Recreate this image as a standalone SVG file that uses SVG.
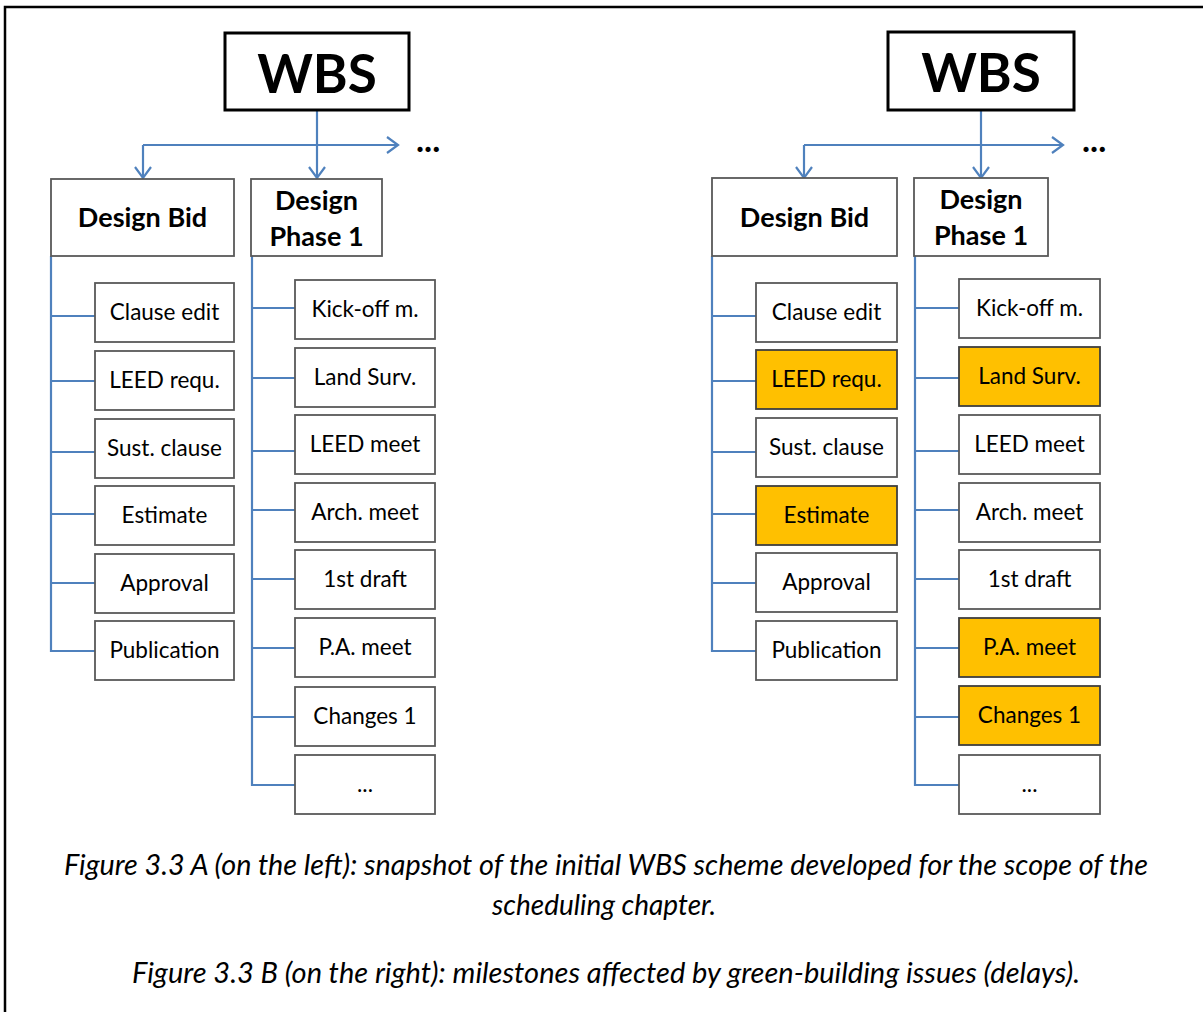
<svg xmlns="http://www.w3.org/2000/svg" width="1203" height="1012" viewBox="0 0 1203 1012">
  <style>
    .frame { fill: none; stroke: #000; stroke-width: 2.5; }
    .root { fill: #fff; stroke: #000; stroke-width: 3; }
    .box { fill: #fff; stroke: #595959; stroke-width: 1.8; }
    .hot { fill: #FFC000; stroke: #3f3f3f; stroke-width: 1.8; }
    .link { fill: none; stroke: #4F81BD; stroke-width: 2.2; }
    .t-root { font-family: Lato, "Liberation Sans", sans-serif; font-weight: 700; font-size: 53px; text-anchor: middle; fill: #000; }
    .t-head { font-family: Lato, "Liberation Sans", sans-serif; font-weight: 700; font-size: 27px; text-anchor: middle; fill: #000; }
    .t-item { font-family: Lato, "Liberation Sans", sans-serif; font-size: 22.5px; text-anchor: middle; fill: #000; }
    .t-more { font-family: Lato, "Liberation Sans", sans-serif; font-weight: 700; font-size: 34px; fill: #000; }
    .t-cap { font-family: Lato, "Liberation Sans", sans-serif; font-style: italic; font-size: 28px; fill: #000; }
  </style>
  <defs>
    <marker id="arrow" viewBox="0 0 14 18" refX="12" refY="9" markerWidth="14" markerHeight="18" markerUnits="userSpaceOnUse" orient="auto">
      <path d="M1,1 L12,9 L1,17" fill="none" stroke="#4F81BD" stroke-width="2.2"/>
    </marker>
  </defs>

  <rect width="1203" height="1012" fill="#fff"/>
  <!-- page frame (top and left edges) -->
  <path class="frame" d="M5,1012 V7 H1203"/>

  <!-- connectors -->
  <g id="connectors">
    <!-- left tree -->
    <path class="link" d="M317,110 V178" marker-end="url(#arrow)"/>
    <path class="link" d="M143,145 H398" marker-end="url(#arrow)"/>
    <path class="link" d="M143,145 V178" marker-end="url(#arrow)"/>
    <path class="link" d="M51,256 V651 H95 M51,316 H95 M51,381 H95 M51,452 H95 M51,514 H95 M51,583 H95"/>
    <path class="link" d="M252,256 V785 H295 M252,308 H295 M252,378 H295 M252,451 H295 M252,510 H295 M252,579 H295 M252,648 H295 M252,717 H295"/>
    <!-- right tree -->
    <path class="link" d="M981,110 V178" marker-end="url(#arrow)"/>
    <path class="link" d="M804,145 H1063" marker-end="url(#arrow)"/>
    <path class="link" d="M804,145 V178" marker-end="url(#arrow)"/>
    <path class="link" d="M712,256 V651 H756 M712,316 H756 M712,381 H756 M712,452 H756 M712,514 H756 M712,583 H756"/>
    <path class="link" d="M915,256 V785 H959 M915,308 H959 M915,378 H959 M915,451 H959 M915,510 H959 M915,579 H959 M915,648 H959 M915,717 H959"/>
  </g>

  <!-- ===== left tree ===== -->
  <g id="a-wbs"><rect class="root" x="225" y="33" width="184" height="77"/><text class="t-root" x="317" y="93">WBS</text></g>
  <text class="t-more" x="416" y="152">...</text>
  <g id="a-design-bid"><rect class="box" x="51" y="179" width="183" height="77"/><text class="t-head" x="142.5" y="227">Design Bid</text></g>
  <g id="a-phase1"><rect class="box" x="251" y="179" width="131" height="77"/><text class="t-head" x="316.5" y="210">Design</text><text class="t-head" x="316.5" y="246">Phase 1</text></g>

  <g id="a-clause-edit"><rect class="box" x="95" y="283" width="139" height="59"/><text class="t-item" x="164.5" y="320">Clause edit</text></g>
  <g id="a-leed-requ"><rect class="box" x="95" y="351" width="139" height="59"/><text class="t-item" x="164.5" y="388">LEED requ.</text></g>
  <g id="a-sust-clause"><rect class="box" x="95" y="419" width="139" height="59"/><text class="t-item" x="164.5" y="456">Sust. clause</text></g>
  <g id="a-estimate"><rect class="box" x="95" y="486" width="139" height="59"/><text class="t-item" x="164.5" y="523">Estimate</text></g>
  <g id="a-approval"><rect class="box" x="95" y="554" width="139" height="59"/><text class="t-item" x="164.5" y="591">Approval</text></g>
  <g id="a-publication"><rect class="box" x="95" y="621" width="139" height="59"/><text class="t-item" x="164.5" y="658">Publication</text></g>

  <g id="a-kickoff"><rect class="box" x="295" y="280" width="140" height="59"/><text class="t-item" x="365" y="317">Kick-off m.</text></g>
  <g id="a-land-surv"><rect class="box" x="295" y="348" width="140" height="59"/><text class="t-item" x="365" y="385">Land Surv.</text></g>
  <g id="a-leed-meet"><rect class="box" x="295" y="415" width="140" height="59"/><text class="t-item" x="365" y="452">LEED meet</text></g>
  <g id="a-arch-meet"><rect class="box" x="295" y="483" width="140" height="59"/><text class="t-item" x="365" y="520">Arch. meet</text></g>
  <g id="a-first-draft"><rect class="box" x="295" y="550" width="140" height="59"/><text class="t-item" x="365" y="587">1st draft</text></g>
  <g id="a-pa-meet"><rect class="box" x="295" y="618" width="140" height="59"/><text class="t-item" x="365" y="655">P.A. meet</text></g>
  <g id="a-changes1"><rect class="box" x="295" y="687" width="140" height="59"/><text class="t-item" x="365" y="724">Changes 1</text></g>
  <g id="a-more"><rect class="box" x="295" y="755" width="140" height="59"/><text class="t-item" x="365" y="792">...</text></g>

  <!-- ===== right tree ===== -->
  <g id="b-wbs"><rect class="root" x="888" y="32" width="186" height="78"/><text class="t-root" x="981" y="92">WBS</text></g>
  <text class="t-more" x="1082" y="152">...</text>
  <g id="b-design-bid"><rect class="box" x="712" y="178" width="185" height="78"/><text class="t-head" x="804.5" y="227">Design Bid</text></g>
  <g id="b-phase1"><rect class="box" x="914" y="178" width="134" height="78"/><text class="t-head" x="981" y="209">Design</text><text class="t-head" x="981" y="245">Phase 1</text></g>

  <g id="b-clause-edit"><rect class="box" x="756" y="283" width="141" height="59"/><text class="t-item" x="826.5" y="320">Clause edit</text></g>
  <g id="b-leed-requ"><rect class="hot" x="756" y="350" width="141" height="59"/><text class="t-item" x="826.5" y="387">LEED requ.</text></g>
  <g id="b-sust-clause"><rect class="box" x="756" y="418" width="141" height="59"/><text class="t-item" x="826.5" y="455">Sust. clause</text></g>
  <g id="b-estimate"><rect class="hot" x="756" y="486" width="141" height="59"/><text class="t-item" x="826.5" y="523">Estimate</text></g>
  <g id="b-approval"><rect class="box" x="756" y="553" width="141" height="59"/><text class="t-item" x="826.5" y="590">Approval</text></g>
  <g id="b-publication"><rect class="box" x="756" y="621" width="141" height="59"/><text class="t-item" x="826.5" y="658">Publication</text></g>

  <g id="b-kickoff"><rect class="box" x="959" y="279" width="141" height="59"/><text class="t-item" x="1029.5" y="316">Kick-off m.</text></g>
  <g id="b-land-surv"><rect class="hot" x="959" y="347" width="141" height="59"/><text class="t-item" x="1029.5" y="384">Land Surv.</text></g>
  <g id="b-leed-meet"><rect class="box" x="959" y="415" width="141" height="59"/><text class="t-item" x="1029.5" y="452">LEED meet</text></g>
  <g id="b-arch-meet"><rect class="box" x="959" y="483" width="141" height="59"/><text class="t-item" x="1029.5" y="520">Arch. meet</text></g>
  <g id="b-first-draft"><rect class="box" x="959" y="550" width="141" height="59"/><text class="t-item" x="1029.5" y="587">1st draft</text></g>
  <g id="b-pa-meet"><rect class="hot" x="959" y="618" width="141" height="59"/><text class="t-item" x="1029.5" y="655">P.A. meet</text></g>
  <g id="b-changes1"><rect class="hot" x="959" y="686" width="141" height="59"/><text class="t-item" x="1029.5" y="723">Changes 1</text></g>
  <g id="b-more"><rect class="box" x="959" y="755" width="141" height="59"/><text class="t-item" x="1029.5" y="792">...</text></g>

  <!-- caption -->
  <g id="caption">
    <text class="t-cap" x="64" y="875" textLength="1084" lengthAdjust="spacingAndGlyphs">Figure 3.3 A (on the left): snapshot of the initial WBS scheme developed for the scope of the</text>
    <text class="t-cap" x="604" y="915" text-anchor="middle">scheduling chapter.</text>
    <text class="t-cap" x="132" y="983" textLength="948" lengthAdjust="spacingAndGlyphs">Figure 3.3 B (on the right): milestones affected by green-building issues (delays).</text>
  </g>
</svg>
